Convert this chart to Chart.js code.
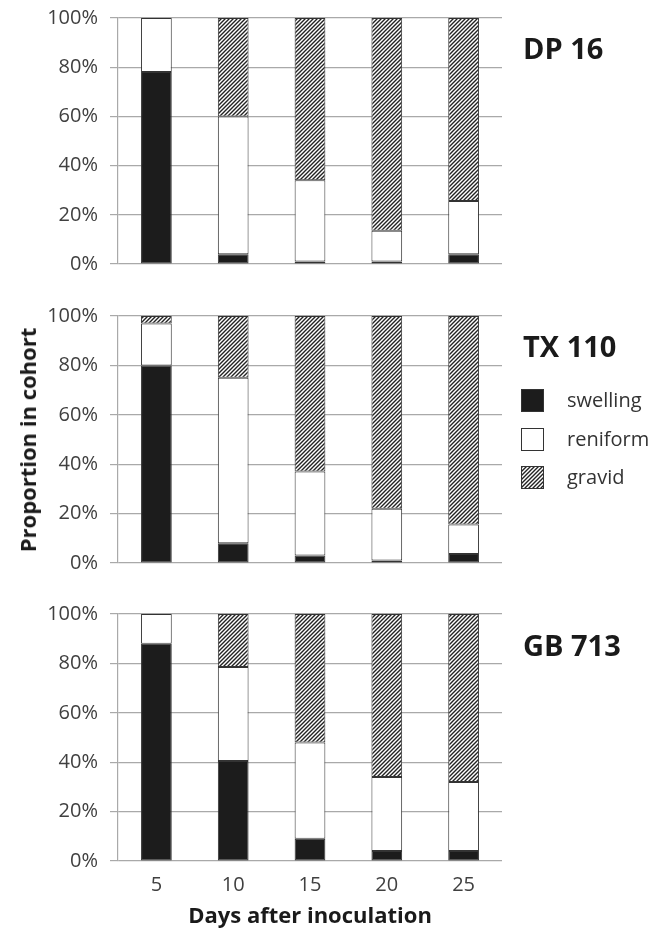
<!DOCTYPE html>
<html>
<head>
<meta charset="utf-8">
<script src="https://cdn.jsdelivr.net/npm/chart.js@4"></script>
<style>
  body { margin: 0; background: #fff; font-family: 'Open Sans', sans-serif; }
  #wrap { position: relative; width: 656px; height: 928px; overflow: hidden; }
  canvas { position: absolute; left: 0; }
  .cult { position: absolute; left: 523px; font-weight: 700; font-size: 29px; color: #1a1a1a; line-height: 1; }
  .leg { position: absolute; left: 521px; font-size: 20px; color: #333; line-height: 23px; }
  .leg span.box { position: absolute; left: 0; top: 0; width: 21px; height: 21px; border: 1px solid #333; }
  .leg span.txt { position: absolute; left: 46px; top: -1px; white-space: nowrap; }
  #ytitle { position: absolute; left: 27px; top: 440px; transform: translate(-50%, -50%) rotate(-90deg);
            font-weight: 700; font-size: 22px; color: #1a1a1a; white-space: nowrap; }
</style>
</head>
<body>
<div id="wrap">
  <canvas id="c1" width="656" height="280" style="top:0px"></canvas>
  <canvas id="c2" width="656" height="280" style="top:296px"></canvas>
  <canvas id="c3" width="656" height="338" style="top:594px"></canvas>

  <div class="cult" style="top:33px">DP 16</div>
  <div class="cult" style="top:331px">TX 110</div>
  <div class="cult" style="top:630px">GB 713</div>

  <div class="leg" style="top:389px"><span class="box" style="background:#1c1c1c"></span><span class="txt">swelling</span></div>
  <div class="leg" style="top:428px"><span class="box" style="background:#fff"></span><span class="txt">reniform</span></div>
  <div class="leg" style="top:466px"><span class="box" id="hatchBox"></span><span class="txt">gravid</span></div>

  <div id="ytitle">Proportion in cohort</div>
</div>
<script>
// données (% de la cohorte)
const days = ['5', '10', '15', '20', '25'];
const yTicks = [0, 20, 40, 60, 80, 100];

const dp16Swelling = [78, 4, 1, 1, 4];
const dp16Reniform = [22, 56, 33, 12.5, 21.6];
const dp16Gravid   = [0, 40, 66, 86.5, 74.4];

const tx110Swelling = [80, 8, 3, 1, 3.6];
const tx110Reniform = [17, 67, 34, 21, 12];
const tx110Gravid   = [3, 25, 63, 78, 84.4];

const gb713Swelling = [88, 40.5, 9, 4, 4];
const gb713Reniform = [12, 38, 39, 30, 28];
const gb713Gravid   = [0, 21.5, 52, 66, 68];

// motif hachuré pour "gravid"
function makeHatch() {
    const s = 4;
    const c = document.createElement('canvas');
    c.width = s; c.height = s;
    const g = c.getContext('2d');
    g.fillStyle = '#fff';
    g.fillRect(0, 0, s, s);
    g.strokeStyle = '#222';
    g.lineWidth = 1.4;
    g.beginPath();
    g.moveTo(-1, s + 1); g.lineTo(s + 1, -1);
    g.moveTo(-1, 1); g.lineTo(1, -1);
    g.moveTo(s - 1, s + 1); g.lineTo(s + 1, s - 1);
    g.stroke();
    return c;
}
const hatchCanvas = makeHatch();
document.getElementById('hatchBox').style.background = 'url(' + hatchCanvas.toDataURL() + ')';

function makeChart(id, swelling, reniform, gravid, padTop, padBottom, showX) {
    const ctx = document.getElementById(id).getContext('2d');
    const hatch = ctx.createPattern(hatchCanvas, 'repeat');
    const common = { borderColor: '#333', borderWidth: 1, borderSkipped: false, barPercentage: 0.4, categoryPercentage: 1 };
    return new Chart(ctx, {
        type: 'bar',
        data: {
            labels: days,
            datasets: [
                Object.assign({ label: 'swelling', data: swelling, backgroundColor: '#1c1c1c' }, common),
                Object.assign({ label: 'reniform', data: reniform, backgroundColor: '#ffffff' }, common),
                Object.assign({ label: 'gravid', data: gravid, backgroundColor: hatch }, common)
            ]
        },
        options: {
            responsive: false,
            animation: false,
            layout: { padding: { top: padTop, bottom: padBottom, left: 0, right: 154 } },
            plugins: { legend: { display: false }, tooltip: { enabled: false } },
            scales: {
                x: {
                    stacked: true,
                    display: showX,
                    grid: { display: false, drawTicks: false },
                    border: { display: false },
                    ticks: { color: '#404040', font: { family: 'Open Sans', size: 20 }, padding: 12 },
                    title: { display: showX, text: 'Days after inoculation', color: '#1a1a1a',
                             font: { family: 'Open Sans', size: 22, weight: 'bold' }, padding: { top: 0, bottom: 2 } },
                    afterFit: s => { if (showX) s.height = 71; }
                },
                y: {
                    stacked: true,
                    min: 0,
                    max: 100,
                    afterBuildTicks: s => { s.ticks = yTicks.map(v => ({ value: v })); },
                    afterFit: s => { s.width = 118; s.paddingTop = 0; s.paddingBottom = 0; },
                    grid: { color: '#a9a9a9', lineWidth: 1.2, tickLength: 8 },
                    border: { color: '#a9a9a9', width: 1.2 },
                    ticks: { color: '#404040', font: { family: 'Open Sans', size: 20 }, padding: 12,
                             callback: v => v + '%' }
                }
            }
        }
    });
}

makeChart('c1', dp16Swelling, dp16Reniform, dp16Gravid, 18, 16, false);
makeChart('c2', tx110Swelling, tx110Reniform, tx110Gravid, 20, 13, false);
makeChart('c3', gb713Swelling, gb713Reniform, gb713Gravid, 20, 0, true);
</script>
</body>
</html>
